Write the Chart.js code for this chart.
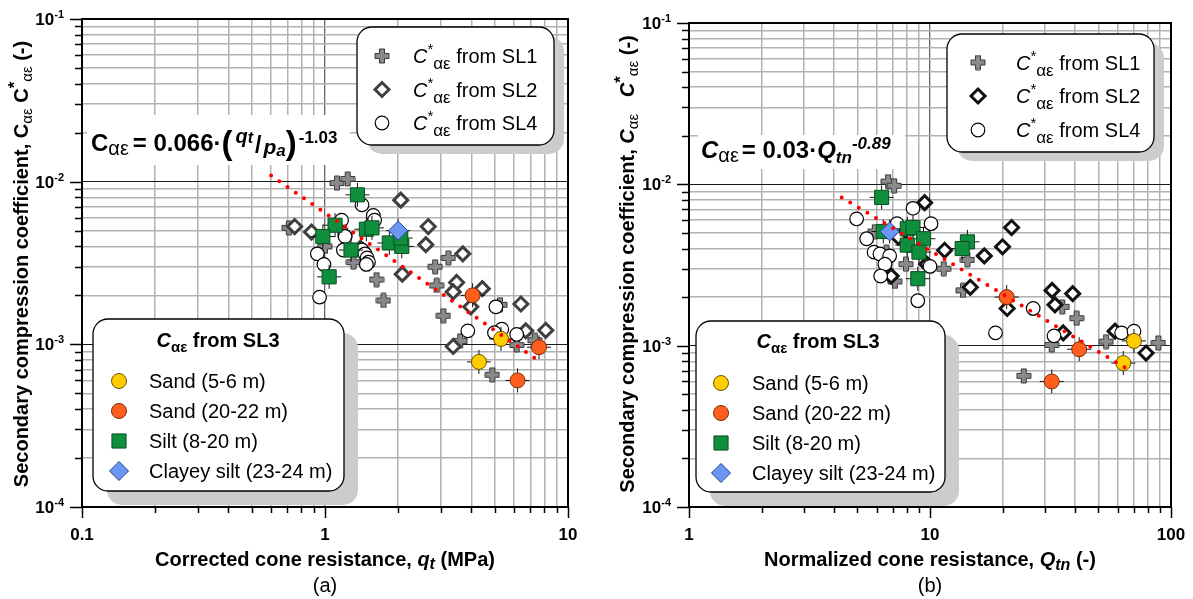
<!DOCTYPE html>
<html><head><meta charset="utf-8">
<script src="https://cdn.jsdelivr.net/npm/chart.js@4.4.1/dist/chart.umd.min.js"></script>
<style>
html,body{margin:0;padding:0;background:#fff;width:1193px;height:599px;overflow:hidden}
#ca{position:absolute;left:0;top:0}
#cb{position:absolute;left:600px;top:0}
</style></head><body>
<canvas id="ca" width="600" height="599"></canvas>
<canvas id="cb" width="593" height="599"></canvas>
<script>
// ================= DATA =================
// Panel (a): x = corrected cone resistance qt (MPa), y = C_alpha_eps
const aSL1 = [[1.12,0.0098],[1.24,0.0104],[0.71,0.0052],[1.0,0.0040],[1.31,0.0032],[1.21,0.0047],[1.63,0.0025],[1.74,0.00186],[2.84,0.0030],[3.22,0.0034],[2.88,0.0023],[3.07,0.0015],[5.25,0.00175],[3.6,0.00105],[6.15,0.00099],[7.3,0.00106],[4.88,0.00065]];
const aSL2 = [[0.75,0.0053],[0.88,0.0049],[2.05,0.0077],[2.66,0.0053],[2.6,0.0041],[3.69,0.0036],[2.08,0.0027],[3.48,0.0024],[3.37,0.0021],[4.44,0.0022],[3.98,0.0017],[6.4,0.00177],[3.37,0.00097],[6.7,0.00121],[8.1,0.00122],[1.4,0.0039]];
const aSL4 = [[1.42,0.0072],[1.17,0.0058],[1.58,0.0062],[1.6,0.0058],[1.21,0.0046],[0.93,0.0036],[0.99,0.0031],[0.95,0.00195],[1.19,0.0038],[1.42,0.0038],[1.46,0.0036],[1.49,0.0034],[1.51,0.0032],[1.48,0.0031],[3.87,0.00121],[5.05,0.0017],[5.34,0.00124],[4.98,0.00118],[6.15,0.00115]];
const aSandShallow = [[5.3,0.00108],[4.3,0.00078]];
const aSandDeep = [[4.05,0.0020],[7.6,0.00096],[6.2,0.0006]];
const aSilt = [[1.36,0.0083],[1.1,0.0054],[0.98,0.0046],[1.48,0.0051],[1.56,0.0052],[1.28,0.0038],[1.84,0.0042],[2.07,0.0040],[2.05,0.0045],[1.04,0.0026]];
const aClayeySilt = [[2.0,0.0050]];
const aTrend = [[0.6,0.0109],[7.5,0.0008]];

// Panel (b): x = normalized cone resistance Qtn, y = C_alpha_eps
const bSL1 = [[6.7,0.0104],[7.1,0.0098],[7.95,0.0032],[7.15,0.0025],[11.4,0.0030],[14.3,0.0034],[13.7,0.0022],[35.4,0.00174],[40.6,0.00148],[32,0.00101],[53.8,0.00106],[88.6,0.00104],[24.5,0.00065],[5.9,0.0051],[6.6,0.0038]];
const bSL2 = [[9.5,0.0077],[11.5,0.0039],[9.7,0.0032],[6.9,0.0027],[16.8,0.0036],[20,0.0041],[21.8,0.0054],[14.7,0.0023],[20.9,0.0017],[32.1,0.0022],[39.1,0.0021],[33,0.00179],[35.7,0.0012],[58.6,0.00123],[78.8,0.0009],[7.4,0.0047]];
const bSL4 = [[4.96,0.0061],[8.5,0.0071],[10.1,0.0057],[5.46,0.0046],[5.86,0.0038],[6.2,0.0037],[6.8,0.0036],[6.5,0.0032],[6.24,0.0027],[10,0.0031],[8.9,0.0019],[26.8,0.0017],[18.7,0.0012],[32.7,0.00115],[62.4,0.0012],[70.2,0.00123],[7.3,0.0057]];
const bSandShallow = [[70.2,0.00107],[63.4,0.00078]];
const bSandDeep = [[20.8,0.0020],[41.6,0.00095],[32,0.0006]];
const bSilt = [[6.3,0.0083],[6.4,0.0051],[8.05,0.0053],[8.5,0.0054],[9.4,0.0046],[8.05,0.0042],[9.0,0.0038],[8.9,0.0026],[14.3,0.0044],[13.6,0.0040]];
const bClayeySilt = [[6.8,0.0051]];
const bTrend = [[4.3,0.0083],[65.5,0.00072]];

// Axes / tick labels
const aXRange = [0.1, 10];
const bXRange = [1, 100];
const yRange = [1e-4, 1e-1];
const aXTickVals = [0.1, 1, 10];
const aXTickLabels = ['0.1', '1', '10'];
const bXTickVals = [1, 10, 100];
const bXTickLabels = ['1', '10', '100'];
const yTickExps = [-4, -3, -2, -1];

// Legend labels
const legendTopLabels = ['SL1', 'SL2', 'SL4'];
const legendSL3Labels = ['Sand (5-6 m)', 'Sand (20-22 m)', 'Silt (8-20 m)', 'Clayey silt (23-24 m)'];

// ================= STYLE =================
const FF = '"Liberation Sans", Arial, Helvetica, sans-serif';
const fnt = (st, sz) => `${st} ${sz}px ${FF}`;
const P = (t, f, dy, k) => ({t, f, dy: dy || 0, k: k || 0});

function plusImg(fill, stroke) {
  const c = document.createElement('canvas');
  c.width = 16; c.height = 16;
  const g = c.getContext('2d');
  const m = 8, a = 2.5, L = 7;
  g.beginPath();
  g.moveTo(m - a, m - L); g.lineTo(m + a, m - L); g.lineTo(m + a, m - a); g.lineTo(m + L, m - a);
  g.lineTo(m + L, m + a); g.lineTo(m + a, m + a); g.lineTo(m + a, m + L); g.lineTo(m - a, m + L);
  g.lineTo(m - a, m + a); g.lineTo(m - L, m + a); g.lineTo(m - L, m - a); g.lineTo(m - a, m - a);
  g.closePath();
  g.fillStyle = fill; g.fill();
  g.lineWidth = 1; g.strokeStyle = stroke; g.stroke();
  return c;
}

const MK = {
  sl1: {img: plusImg('#8a8a8a', '#383838'), r: 7},
  sl2a: {style: 'rectRot', r: 7, bg: '#ffffff', bc: '#3f3f3f', bw: 3},
  sl2b: {style: 'rectRot', r: 7, bg: '#ffffff', bc: '#111111', bw: 3},
  sl4: {style: 'circle', r: 6.8, bg: '#ffffff', bc: '#000000', bw: 1.2},
  sand1: {style: 'circle', r: 7.5, bg: '#ffcc00', bc: '#6b5200', bw: 1},
  sand2: {style: 'circle', r: 7.5, bg: '#ff5e1f', bc: '#7a2a00', bw: 1},
  silt: {style: 'rect', r: 10, bg: '#0f8f3d', bc: '#0a4f22', bw: 1},
  clay: {style: 'rectRot', r: 9.5, bg: '#6b96f2', bc: '#23419c', bw: 1}
};

function ds(pts, m, order) {
  return {
    data: pts.map(p => ({x: p[0], y: p[1]})), order,
    pointStyle: m.img || m.style, pointRadius: m.r, pointHoverRadius: m.r,
    pointBackgroundColor: m.bg || '#000', pointBorderColor: m.bc || '#000',
    pointBorderWidth: m.bw || 0, showLine: false
  };
}
function errDs(pts, order) {
  return {
    data: pts.map(p => ({x: p[0], y: p[1]})), order,
    pointStyle: 'cross', pointRadius: 12, pointHoverRadius: 12,
    pointBorderColor: '#111', pointBackgroundColor: '#111', pointBorderWidth: 1, showLine: false
  };
}
function trendDs(pts) {
  return {
    data: pts.map(p => ({x: p[0], y: p[1]})), order: 0, showLine: true,
    borderColor: '#ff0000', borderWidth: 4, borderDash: [0, 10], borderCapStyle: 'round',
    pointRadius: 0, pointHoverRadius: 0, fill: false
  };
}

function gridTicks(min, max) {
  const t = [];
  const e0 = Math.round(Math.log10(min)), e1 = Math.round(Math.log10(max));
  for (let e = e0; e < e1; e++) {
    for (let m = 1; m <= 9; m++) t.push({value: Number((m * Math.pow(10, e)).toPrecision(6)), major: m === 1});
  }
  t.push({value: max, major: true});
  return t;
}

function rich(ctx, parts, x, y, align) {
  let w = 0;
  parts.forEach(p => { ctx.font = p.f; w += ctx.measureText(p.t).width + p.k; });
  let cx = align === 'center' ? x - w / 2 : align === 'right' ? x - w : x;
  ctx.textAlign = 'left'; ctx.textBaseline = 'alphabetic';
  parts.forEach(p => { ctx.font = p.f; ctx.fillText(p.t, cx, y + p.dy); cx += ctx.measureText(p.t).width + p.k; });
}

function rrect(ctx, x, y, w, h, r) {
  ctx.beginPath();
  ctx.moveTo(x + r, y); ctx.lineTo(x + w - r, y); ctx.arcTo(x + w, y, x + w, y + r, r);
  ctx.lineTo(x + w, y + h - r); ctx.arcTo(x + w, y + h, x + w - r, y + h, r);
  ctx.lineTo(x + r, y + h); ctx.arcTo(x, y + h, x, y + h - r, r);
  ctx.lineTo(x, y + r); ctx.arcTo(x, y, x + r, y, r); ctx.closePath();
}

function drawMarker(ctx, m, x, y) {
  if (m.img) { ctx.drawImage(m.img, x - m.img.width / 2, y - m.img.height / 2); return; }
  ctx.save(); ctx.fillStyle = m.bg; ctx.strokeStyle = m.bc; ctx.lineWidth = m.bw;
  ctx.beginPath(); const r = m.r;
  if (m.style === 'circle') ctx.arc(x, y, r, 0, Math.PI * 2);
  else if (m.style === 'rect') { const s = r * Math.SQRT1_2; ctx.rect(x - s, y - s, 2 * s, 2 * s); }
  else { ctx.moveTo(x - r, y); ctx.lineTo(x, y - r); ctx.lineTo(x + r, y); ctx.lineTo(x, y + r); ctx.closePath(); }
  ctx.fill(); if (m.bw) ctx.stroke(); ctx.restore();
}

function decorPlugin(d) {
  return {
    id: 'decor',
    afterDraw(chart) {
      const ctx = chart.ctx, A = chart.chartArea, xs = chart.scales.x, ys = chart.scales.y;
      ctx.save();
      // frame
      ctx.strokeStyle = '#000'; ctx.lineWidth = 2;
      ctx.strokeRect(A.left, A.top, A.right - A.left, A.bottom - A.top);
      // ticks (outward)
      ctx.lineWidth = 1.5; ctx.beginPath();
      xs.ticks.forEach(t => {
        const px = Math.round(xs.getPixelForValue(t.value)) + 0.5;
        ctx.moveTo(px, A.bottom); ctx.lineTo(px, A.bottom + (t.major ? 11 : 6));
      });
      ys.ticks.forEach(t => {
        const py = Math.round(ys.getPixelForValue(t.value)) + 0.5;
        ctx.moveTo(A.left, py); ctx.lineTo(A.left - (t.major ? 12 : 7), py);
      });
      ctx.stroke();
      ctx.fillStyle = '#000';
      // x tick labels
      d.xTickVals.forEach((v, i) => rich(ctx, [P(d.xTickLabels[i], fnt('bold', 17))], xs.getPixelForValue(v), 540, 'center'));
      // y tick labels
      yTickExps.forEach(e => rich(ctx, [P('10', fnt('bold', 17)), P(String(e), fnt('bold', 11), -7)], A.left - 18, ys.getPixelForValue(Math.pow(10, e)) + 6, 'right'));
      // x title and panel letter
      rich(ctx, d.xTitle, (A.left + A.right) / 2, 566, 'center');
      rich(ctx, [P(d.panel, fnt('', 20))], (A.left + A.right) / 2, 592, 'center');
      // y title (rotated)
      ctx.save(); ctx.translate(d.yTitleX, 264); ctx.rotate(-Math.PI / 2);
      rich(ctx, d.yTitle, 0, 0, 'center'); ctx.restore();
      // equation with white background
      ctx.fillStyle = '#fff'; const eb = d.eqBox; ctx.fillRect(eb[0], eb[1], eb[2] - eb[0], eb[3] - eb[1]);
      ctx.fillStyle = '#000'; rich(ctx, d.eq, d.eqPos[0], d.eqPos[1], 'left');
      // legends
      d.legends.forEach(L => {
        const [x0, y0, x1, y1] = L.box;
        ctx.fillStyle = '#cccccc'; rrect(ctx, x0 + L.sh[0], y0 + L.sh[1], x1 - x0, y1 - y0, 15); ctx.fill();
        ctx.fillStyle = '#fff'; rrect(ctx, x0, y0, x1 - x0, y1 - y0, 15); ctx.fill();
        ctx.strokeStyle = '#000'; ctx.lineWidth = 1.3; ctx.stroke();
        ctx.fillStyle = '#000';
        if (L.title) rich(ctx, L.title, L.titlePos[0], L.titlePos[1], 'center');
        L.items.forEach(it => {
          drawMarker(ctx, it.m, L.mx, it.y);
          ctx.fillStyle = '#000';
          rich(ctx, it.parts, L.tx, it.y + 7, 'left');
        });
      });
      ctx.restore();
    }
  };
}

function topLegendItems(ys, sl2) {
  const mk = [MK.sl1, sl2, MK.sl4];
  return legendTopLabels.map((s, i) => ({
    m: mk[i], y: ys[i],
    parts: [P('C', fnt('italic', 20)), P('*', fnt('', 15), -9), P('αε', fnt('', 17), 6), P(' from ' + s, fnt('', 20))]
  }));
}
function sl3LegendItems(ys) {
  const mk = [MK.sand1, MK.sand2, MK.silt, MK.clay];
  return legendSL3Labels.map((s, i) => ({m: mk[i], y: ys[i], parts: [P(s, fnt('', 20))]}));
}
const sl3Title = [P('C', fnt('bold italic', 20)), P('αε', fnt('bold', 15), 5), P(' from SL3', fnt('bold', 20))];

function makeChart(id, S, xr, pad, d) {
  const gridCfg = (maj, majW) => ({
    drawTicks: false,
    color: c => (c.tick && c.tick.major) ? maj : '#b2b2b2',
    lineWidth: c => (c.tick && c.tick.major) ? majW : 1.5
  });
  return new Chart(document.getElementById(id), {
    type: 'scatter',
    data: {datasets: [
      trendDs(S.trend),
      ds(S.clay, MK.clay, 1), ds(S.silt, MK.silt, 1), ds(S.sand2, MK.sand2, 1), ds(S.sand1, MK.sand1, 1),
      errDs([].concat(S.sand1, S.sand2, S.silt, S.clay), 2),
      ds(S.sl4, MK.sl4, 3), ds(S.sl2, S.sl2m, 4), ds(S.sl1, MK.sl1, 5)
    ]},
    options: {
      responsive: false, animation: false, events: [],
      layout: {padding: pad},
      plugins: {legend: {display: false}, tooltip: {enabled: false}},
      scales: {
        x: {type: 'logarithmic', min: xr[0], max: xr[1], ticks: {display: false}, border: {display: false},
            grid: gridCfg('#666666', 1.3), afterBuildTicks: s => { s.ticks = gridTicks(xr[0], xr[1]); }},
        y: {type: 'logarithmic', min: yRange[0], max: yRange[1], ticks: {display: false}, border: {display: false},
            grid: gridCfg('#1a1a1a', 1), afterBuildTicks: s => { s.ticks = gridTicks(yRange[0], yRange[1]); }}
      }
    },
    plugins: [decorPlugin(d)]
  });
}

// ---------- Panel (a) ----------
makeChart('ca', {
  trend: aTrend, clay: aClayeySilt, silt: aSilt, sand1: aSandShallow, sand2: aSandDeep,
  sl4: aSL4, sl2: aSL2, sl2m: MK.sl2a, sl1: aSL1
}, aXRange, {left: 82, right: 32, top: 19, bottom: 92}, {
  xTickVals: aXTickVals, xTickLabels: aXTickLabels, panel: '(a)',
  xTitle: [P('Corrected cone resistance, ', fnt('bold', 20)), P('q', fnt('bold italic', 20)), P('t', fnt('bold italic', 16), 3), P(' (MPa)', fnt('bold', 20))],
  yTitleX: 28,
  yTitle: [P('Secondary compression coefficient, ', fnt('bold', 20)), P('C', fnt('bold', 20)), P('αε', fnt('', 15), 4), P(' C', fnt('bold', 20)), P('*', fnt('bold', 17), -8), P('αε', fnt('', 15), 4), P(' (-)', fnt('bold', 20))],
  eqBox: [87, 115, 350, 165], eqPos: [91, 151],
  eq: [P('C', fnt('bold', 24)), P('αε', fnt('', 20), 4, 4), P('= 0.066·', fnt('bold', 24)), P('(', fnt('bold', 33), 3, 3),
       P('q', fnt('bold italic', 20), -8), P('t', fnt('bold italic', 16), -8, 2), P('/', fnt('bold', 23), 2, 2),
       P('p', fnt('bold italic', 21), 3), P('a', fnt('bold italic', 17), 5), P(')', fnt('bold', 33), 3, 2), P('-1.03', fnt('bold', 17), -8)],
  legends: [
    {box: [357, 27, 554, 145], sh: [10, 9], mx: 382, tx: 413, items: topLegendItems([56, 89.5, 123], MK.sl2a)},
    {box: [93, 319, 344, 491], sh: [14, 14], mx: 119, tx: 149, title: sl3Title, titlePos: [218, 347], items: sl3LegendItems([381, 411, 441, 471])}
  ]
});

// ---------- Panel (b) ----------
makeChart('cb', {
  trend: bTrend, clay: bClayeySilt, silt: bSilt, sand1: bSandShallow, sand2: bSandDeep,
  sl4: bSL4, sl2: bSL2, sl2m: MK.sl2b, sl1: bSL1
}, bXRange, {left: 89, right: 22, top: 23, bottom: 92}, {
  xTickVals: bXTickVals, xTickLabels: bXTickLabels, panel: '(b)',
  xTitle: [P('Normalized cone resistance, ', fnt('bold', 20)), P('Q', fnt('bold italic', 20)), P('tn', fnt('bold italic', 16), 4), P(' (-)', fnt('bold', 20))],
  yTitleX: 34,
  yTitle: [P('Secondary compression coefficient, ', fnt('bold', 20)), P('C', fnt('bold italic', 20)), P('αε', fnt('', 15), 4), P('   C', fnt('bold italic', 20)), P('*', fnt('bold', 17), -8), P('αε', fnt('', 15), 4), P(' (-)', fnt('bold', 20))],
  eqBox: [98, 135, 305, 169], eqPos: [101, 158],
  eq: [P('C', fnt('bold italic', 24)), P('αε', fnt('', 20), 4, 3), P('= 0.03·', fnt('bold', 24)), P('Q', fnt('bold italic', 24)),
       P('tn', fnt('bold italic', 17), 5), P('-0.89', fnt('bold italic', 17), -9)],
  legends: [
    {box: [347, 34, 554, 152], sh: [10, 9], mx: 378, tx: 416, items: topLegendItems([62.5, 96, 130], MK.sl2b)},
    {box: [96, 321, 345, 492], sh: [14, 14], mx: 121, tx: 152, title: sl3Title, titlePos: [218, 348], items: sl3LegendItems([383, 413, 443, 473])}
  ]
});
</script>
</body></html>
